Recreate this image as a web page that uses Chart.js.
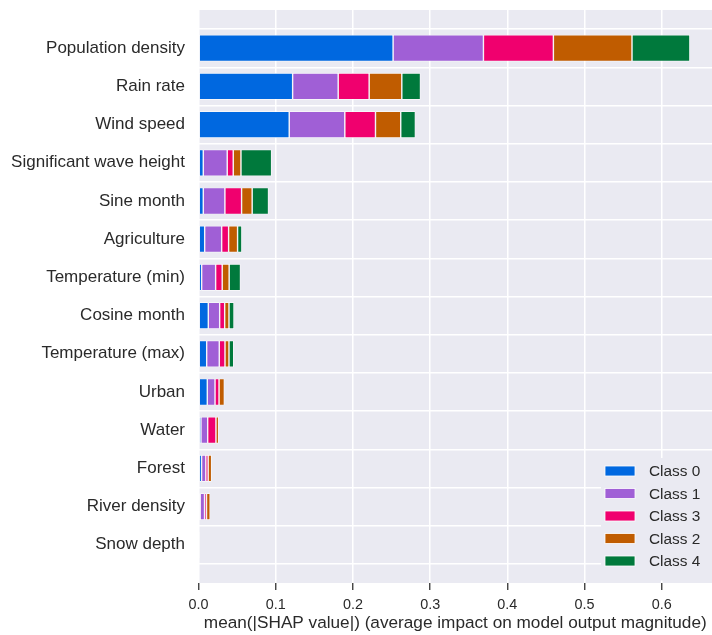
<!DOCTYPE html>
<html>
<head>
<meta charset="utf-8">
<script src="https://cdn.jsdelivr.net/npm/chart.js@4/dist/chart.umd.min.js"></script>
<style>
  html, body { margin: 0; padding: 0; background: #ffffff; }
  #wrap { width: 712px; height: 635px; position: relative; }
</style>
</head>
<body>
<div id="wrap"><canvas id="chart" width="712" height="635"></canvas></div>
<script>
// Features, ordered from most to least important
const features = [
  'Population density', 'Rain rate', 'Wind speed', 'Significant wave height',
  'Sine month', 'Agriculture', 'Temperature (min)', 'Cosine month',
  'Temperature (max)', 'Urban', 'Water', 'Forest', 'River density', 'Snow depth'
];

// mean(|SHAP value|) per class for each feature
const class0 = [0.252, 0.1219, 0.1175, 0.0062, 0.0062, 0.0080, 0.0041, 0.0127, 0.0106, 0.0114, 0.0032, 0.0040, 0.0022, 0.0008];
const class1 = [0.117, 0.0590, 0.0720, 0.0310, 0.0280, 0.0220, 0.0181, 0.0147, 0.0163, 0.0100, 0.0087, 0.0055, 0.0056, 0.0006];
const class3 = [0.0906, 0.0401, 0.0397, 0.0078, 0.0216, 0.0090, 0.0085, 0.0065, 0.0074, 0.0052, 0.0107, 0.0030, 0.0026, 0.0004];
const class2 = [0.1018, 0.0423, 0.0327, 0.0100, 0.0137, 0.0116, 0.0090, 0.0056, 0.0052, 0.0069, 0.0035, 0.0045, 0.0047, 0.0004];
const class4 = [0.0750, 0.0242, 0.0190, 0.0397, 0.0212, 0.0056, 0.0147, 0.0065, 0.0061, 0.0005, 0.0005, 0.0005, 0.0003, 0.0002];

const classNames = ['Class 0', 'Class 1', 'Class 3', 'Class 2', 'Class 4'];
const classValues = [class0, class1, class3, class2, class4];
const classColors = ['#0068e0', '#a05fd6', '#f0006e', '#c05c00', '#00793c'];

const xTickStep = 0.1;
const xTitle = 'mean(|SHAP value|) (average impact on model output magnitude)';

const BG = '#eaeaf2';
const TEXT = '#2a2a2a';
const FONT = "'Liberation Sans', Arial, Helvetica, sans-serif";

const datasets = classNames.map((name, k) => ({
  label: name,
  data: classValues[k].map((v, i) => ({ x: v, y: i })),
  backgroundColor: classColors[k],
  borderColor: '#ffffff',
  borderWidth: 0.7,
  borderSkipped: false,
  categoryPercentage: 1.0,
  barPercentage: 0.7
}));

// Axes background
const plotBackground = {
  id: 'plotBackground',
  beforeDraw(chart) {
    const { ctx, chartArea: a } = chart;
    ctx.save();
    ctx.fillStyle = BG;
    ctx.fillRect(a.left, a.top, a.right - a.left, a.bottom - a.top);
    ctx.restore();
  }
};

// Legend drawn inside the lower-right corner of the plot
const innerLegend = {
  id: 'innerLegend',
  afterDraw(chart) {
    const { ctx, chartArea: a } = chart;
    const rowH = 22.5;
    const n = chart.data.datasets.length;
    const fx = a.right - 111, fy = a.bottom - 125;
    ctx.save();
    ctx.fillStyle = BG;
    ctx.fillRect(fx, fy, a.right - fx, rowH * n + 10);
    ctx.font = '15.4px ' + FONT;
    ctx.textBaseline = 'middle';
    ctx.textAlign = 'left';
    chart.data.datasets.forEach((ds, i) => {
      const cy = fy + 13 + i * rowH;
      ctx.fillStyle = ds.backgroundColor;
      ctx.fillRect(fx + 4, cy - 5, 30, 10);
      ctx.strokeStyle = '#ffffff';
      ctx.lineWidth = 0.8;
      ctx.strokeRect(fx + 4, cy - 5, 30, 10);
      ctx.fillStyle = TEXT;
      ctx.fillText(ds.label, fx + 48, cy + 1);
    });
    ctx.restore();
  }
};

new Chart(document.getElementById('chart'), {
  type: 'bar',
  data: { datasets },
  options: {
    indexAxis: 'y',
    responsive: false,
    animation: false,
    layout: { padding: { top: 10, right: 0, bottom: 0, left: 0 } },
    plugins: {
      legend: { display: false },
      tooltip: { enabled: false }
    },
    scales: {
      x: {
        type: 'linear',
        stacked: true,
        min: 0,
        max: 0.665,
        afterFit(scale) { scale.height = 52; scale.paddingRight = 0; scale.paddingLeft = 0; },
        border: { display: false },
        grid: {
          color: '#ffffff',
          lineWidth: 1.5,
          drawTicks: true,
          tickLength: 7,
          tickColor: '#333333',
          tickWidth: 1.3
        },
        ticks: {
          stepSize: xTickStep,
          includeBounds: false,
          color: TEXT,
          padding: 6,
          font: { family: FONT, size: 14.4 },
          callback: (v) => v.toFixed(1)
        },
        title: {
          display: true,
          text: xTitle,
          color: TEXT,
          font: { family: FONT, size: 17.2 },
          padding: { top: 0, bottom: 1 }
        }
      },
      y: {
        type: 'linear',
        stacked: true,
        reverse: true,
        offset: false,
        min: -1,
        max: 14,
        afterFit(scale) { scale.width = 198.5; scale.paddingTop = 0; scale.paddingBottom = 0; },
        afterBuildTicks(scale) {
          scale.ticks = scale.ticks.filter(t => t.value >= 0 && t.value < features.length);
        },
        border: { display: false },
        grid: {
          color: '#ffffff',
          lineWidth: 1.5,
          drawTicks: false
        },
        ticks: {
          stepSize: 1,
          autoSkip: false,
          color: TEXT,
          padding: 13.5,
          font: { family: FONT, size: 17 },
          callback: (v) => features[v] ?? ''
        }
      }
    }
  },
  plugins: [plotBackground, innerLegend]
});
</script>
</body>
</html>
